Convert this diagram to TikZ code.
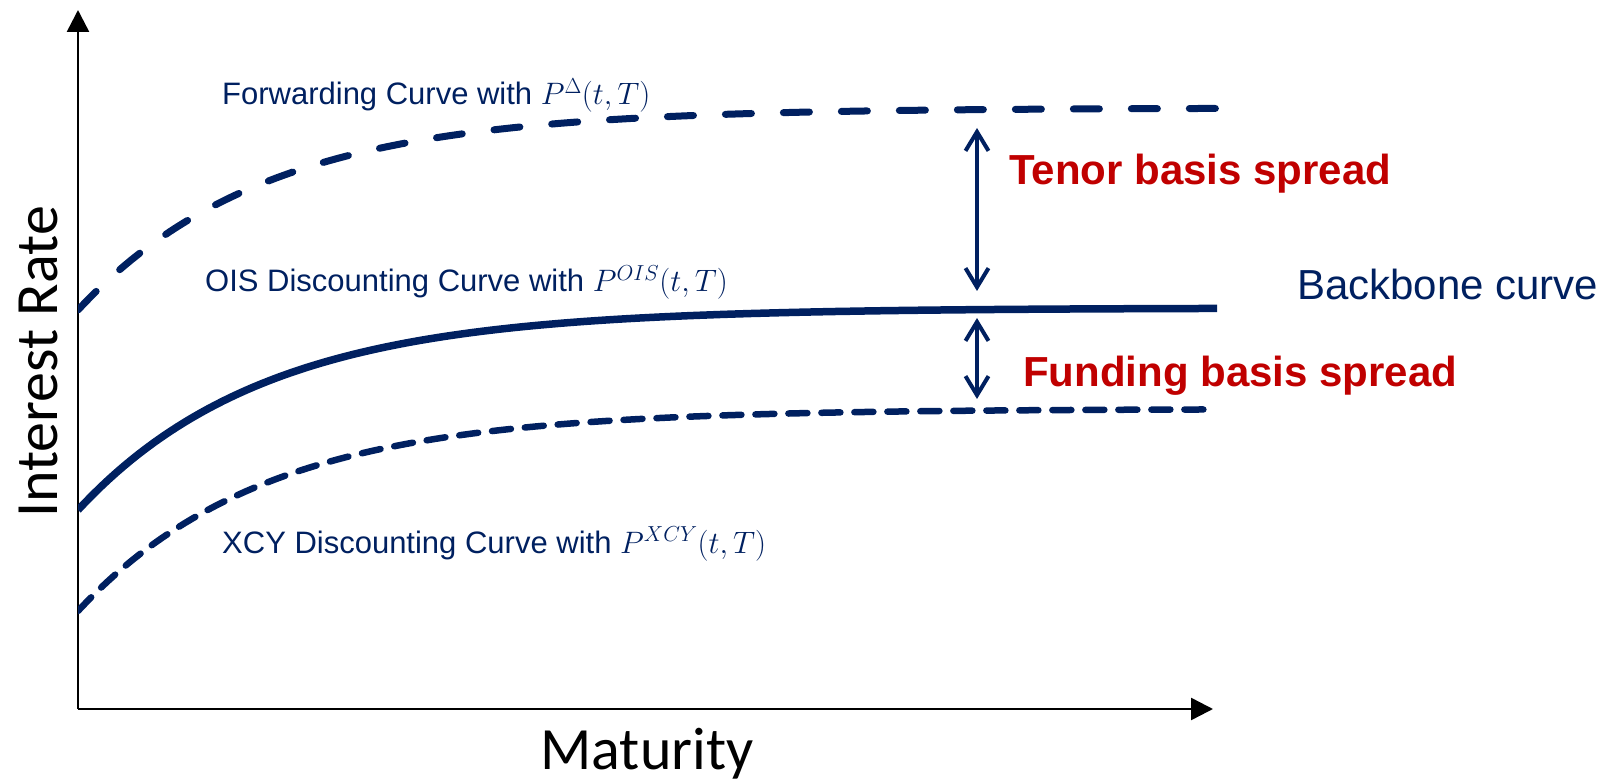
\RequirePackage{fix-cm}
\documentclass[tikz,border=0pt]{standalone}
\usepackage[no-math]{fontspec}
\setmainfont{Liberation Sans}
\newfontfamily\calfont{Carlito}
\usetikzlibrary{arrows.meta}
\definecolor{navy}{HTML}{002060}
\definecolor{darkred}{HTML}{C00000}
\tikzset{
  axisline/.style={black, line width=2.5pt, -{Triangle[length=22pt,width=22pt]}},
  solidcurve/.style={navy, line width=7.5pt},
  fwdcurve/.style={navy, line width=7pt, line cap=round, dash pattern=on 26pt off 32pt},
  xcycurve/.style={navy, line width=6.5pt, line cap=round, dash pattern=on 19pt off 14pt},
  spreadarrow/.style={navy, line width=4pt, {Straight Barb[length=19pt,width=23pt]}-{Straight Barb[length=19pt,width=23pt]}},
  curvelabel/.style={text=navy, inner sep=0pt, anchor=base west, font=\fontsize{31}{37}\selectfont},
  spreadlabel/.style={text=darkred, inner sep=0pt, anchor=base west, font=\fontsize{42}{50}\selectfont\bfseries},
  axislabel/.style={text=black, inner sep=0pt, anchor=base, font=\calfont\fontsize{60}{72}\selectfont}
}
\begin{document}
\begin{tikzpicture}[x=1pt,y=-1pt]
\useasboundingbox (0,0) rectangle (1610,783);
% axes
\coordinate (origin) at (78,709);
\coordinate (ytip) at (78,10);
\coordinate (xtip) at (1213,709);
\draw[axisline] (origin) -- (ytip);
\draw[axisline] (origin) -- (xtip);
% curves
\begin{scope}
\clip (78,0) rectangle (1610,783);
\draw[fwdcurve] plot[domain=78:1217,samples=150] (\x,{108+202*exp(-(\x-78)/187)});
\draw[solidcurve] plot[domain=78:1217,samples=150] (\x,{308+202*exp(-(\x-78)/187)});
\draw[xcycurve] plot[domain=78:1217,samples=150] (\x,{409+202*exp(-(\x-78)/187)});
\end{scope}
% spread arrows
\coordinate (tenorTop) at (977,128);
\coordinate (tenorBot) at (977,291);
\coordinate (fundTop) at (977,318);
\coordinate (fundBot) at (977,399);
\draw[spreadarrow] (tenorTop) -- (tenorBot);
\draw[spreadarrow] (fundTop) -- (fundBot);
% labels
\node[curvelabel] (fwdlabel) at (222,105) {Forwarding Curve with $P^{\Delta}(t,T)$};
\node[curvelabel] (oislabel) at (205,292) {OIS Discounting Curve with $P^{OIS}(t,T)$};
\node[curvelabel] (xcylabel) at (222,553) {XCY Discounting Curve with $P^{XCY}(t,T)$};
\node[spreadlabel] (tenorlabel) at (1009,185) {Tenor basis spread};
\node[spreadlabel] (fundlabel) at (1023,387) {Funding basis spread};
\node[curvelabel, font=\fontsize{42}{50}\selectfont] (backbone) at (1297,300) {Backbone curve};
\node[axislabel, rotate=90] (ylabel) at (57,362) {Interest Rate};
\node[axislabel] (xlabel) at (647,769) {Maturity};
\end{tikzpicture}
\end{document}
